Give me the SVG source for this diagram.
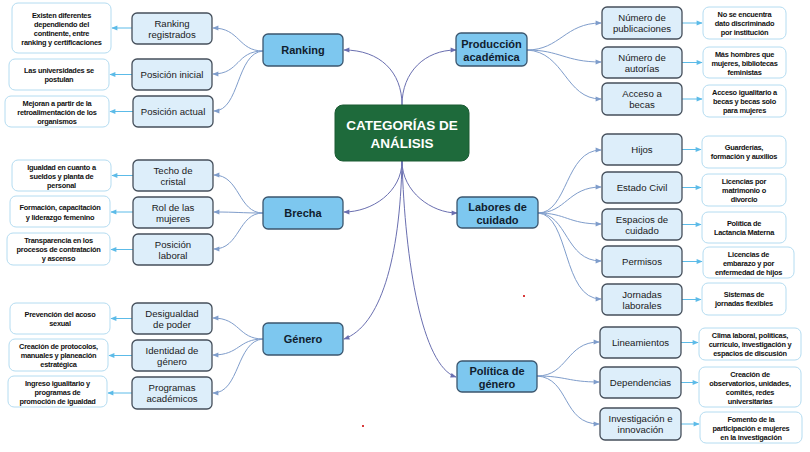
<svg xmlns="http://www.w3.org/2000/svg" width="810" height="452" viewBox="0 0 810 452">
<style>
.bg{fill:#ffffff}
.center rect{fill:#1e6a3b;stroke:#1a5a33;stroke-width:1}
.center text{fill:#ffffff;font-family:"Liberation Sans",Arial,sans-serif;font-weight:bold;font-size:13.5px;text-anchor:middle}
.main rect{fill:#7dc7ef;stroke:#3b566e;stroke-width:1.3}
.main text{fill:#10202e;font-family:"Liberation Sans",Arial,sans-serif;font-weight:bold;font-size:11px;text-anchor:middle}
.child rect{fill:#ddeefa;stroke:#454f5b;stroke-width:1.3}
.child text{fill:#1a1a1a;font-family:"Liberation Sans",Arial,sans-serif;font-size:9.6px;text-anchor:middle}
.leaf rect{fill:#ffffff;stroke:#b4dcf1;stroke-width:1}
.leaf text{fill:#111111;font-family:"Liberation Sans",Arial,sans-serif;font-weight:bold;font-size:7.4px;letter-spacing:-0.25px;text-anchor:middle}
.c0{fill:none;stroke:#6a6fb0;stroke-width:1}
.c1{fill:none;stroke:#7f9dcb;stroke-width:1}
.c2{fill:none;stroke:#5cbbe8;stroke-width:1}
</style>
<defs>
<marker id="m0" viewBox="0 0 10 10" refX="9" refY="5" markerWidth="7" markerHeight="6" orient="auto" markerUnits="userSpaceOnUse"><path d="M0,1 L10,5 L0,9 z" fill="#6a6fb0"/></marker>
<marker id="m1" viewBox="0 0 10 10" refX="9" refY="5" markerWidth="7" markerHeight="6" orient="auto" markerUnits="userSpaceOnUse"><path d="M0,1 L10,5 L0,9 z" fill="#7f9dcb"/></marker>
<marker id="m2" viewBox="0 0 10 10" refX="9" refY="5" markerWidth="7" markerHeight="6" orient="auto" markerUnits="userSpaceOnUse"><path d="M0,1 L10,5 L0,9 z" fill="#5cbbe8"/></marker>
</defs>
<rect class="bg" x="0" y="0" width="810" height="452"/>

<g id="connectors">
  <!-- center -->
  <path class="c0" marker-end="url(#m0)" d="M402,105 C402,72 380,50 344,50"/>
  <path class="c0" marker-end="url(#m0)" d="M402,105 C402,72 425,50 456,50"/>
  <path class="c0" marker-end="url(#m0)" d="M402,161 C402,192 372,212 344,212"/>
  <path class="c0" marker-end="url(#m0)" d="M402,161 C402,192 432,213 457,213"/>
  <path class="c0" marker-end="url(#m0)" d="M402,161 C400,260 380,326 344,339"/>
  <path class="c0" marker-end="url(#m0)" d="M402,161 C405,262 422,366 456,377"/>
  <!-- Ranking -->
  <path class="c1" marker-end="url(#m1)" d="M263,51 C238,51 240,28 213,28"/>
  <path class="c1" marker-end="url(#m1)" d="M263,51 C236,51 240,74 213,74"/>
  <path class="c1" marker-end="url(#m1)" d="M263,51 C236,53 240,111 214,111"/>
  <!-- Brecha -->
  <path class="c1" marker-end="url(#m1)" d="M263,213 C238,213 240,175 214,175"/>
  <path class="c1" marker-end="url(#m1)" d="M263,213 C240,213 238,212 214,212"/>
  <path class="c1" marker-end="url(#m1)" d="M263,213 C238,213 240,249 214,249"/>
  <!-- Genero -->
  <path class="c1" marker-end="url(#m1)" d="M263,339 C238,339 240,318 213,318"/>
  <path class="c1" marker-end="url(#m1)" d="M263,339 C238,339 240,355 213,355"/>
  <path class="c1" marker-end="url(#m1)" d="M263,339 C236,341 240,393 213,393"/>
  <!-- Produccion -->
  <path class="c1" marker-end="url(#m1)" d="M527,50 C560,50 565,23 601,23"/>
  <path class="c1" marker-end="url(#m1)" d="M527,50 C560,50 565,62 601,62"/>
  <path class="c1" marker-end="url(#m1)" d="M527,50 C565,52 565,99 601,99"/>
  <!-- Labores -->
  <path class="c1" marker-end="url(#m1)" d="M538,213 C568,213 565,150 601,150"/>
  <path class="c1" marker-end="url(#m1)" d="M538,213 C566,213 568,187 601,187"/>
  <path class="c1" marker-end="url(#m1)" d="M538,213 C566,213 568,224 601,224"/>
  <path class="c1" marker-end="url(#m1)" d="M538,213 C568,214 565,261 601,261"/>
  <path class="c1" marker-end="url(#m1)" d="M538,213 C570,215 562,299 601,299"/>
  <!-- Politica -->
  <path class="c1" marker-end="url(#m1)" d="M537,376 C568,376 566,342 599,342"/>
  <path class="c1" marker-end="url(#m1)" d="M537,376 C566,376 568,382 599,382"/>
  <path class="c1" marker-end="url(#m1)" d="M537,376 C570,378 562,424 599,424"/>
  <!-- leaf arrows left -->
  <path class="c2" marker-end="url(#m2)" d="M132,28 L112,28"/>
  <path class="c2" marker-end="url(#m2)" d="M132,74.5 L110,74.5"/>
  <path class="c2" marker-end="url(#m2)" d="M133,111.5 L110,111.5"/>
  <path class="c2" marker-end="url(#m2)" d="M133,175.5 L112,175.5"/>
  <path class="c2" marker-end="url(#m2)" d="M133,212 L111,212"/>
  <path class="c2" marker-end="url(#m2)" d="M133,249.5 L111,249.5"/>
  <path class="c2" marker-end="url(#m2)" d="M132,318.5 L111,318.5"/>
  <path class="c2" marker-end="url(#m2)" d="M132,355.5 L109,355.5"/>
  <path class="c2" marker-end="url(#m2)" d="M132,393 L108,393"/>
  <!-- leaf arrows right -->
  <path class="c2" marker-end="url(#m2)" d="M682,23 L702,23"/>
  <path class="c2" marker-end="url(#m2)" d="M682,62.5 L702,62.5"/>
  <path class="c2" marker-end="url(#m2)" d="M682,99 L702,99"/>
  <path class="c2" marker-end="url(#m2)" d="M682,149.5 L701,149.5"/>
  <path class="c2" marker-end="url(#m2)" d="M682,187.5 L701,187.5"/>
  <path class="c2" marker-end="url(#m2)" d="M682,224.5 L701,224.5"/>
  <path class="c2" marker-end="url(#m2)" d="M682,261.5 L702,261.5"/>
  <path class="c2" marker-end="url(#m2)" d="M682,299.5 L701,299.5"/>
  <path class="c2" marker-end="url(#m2)" d="M681,342.5 L698,342.5"/>
  <path class="c2" marker-end="url(#m2)" d="M681,382.5 L698,382.5"/>
  <path class="c2" marker-end="url(#m2)" d="M681,424 L699,424"/>
</g>

<g id="n-center" class="center"><rect x="335" y="105" width="134" height="56" rx="8"/><text x="402" y="130">CATEGORÍAS DE</text><text x="402" y="148">ANÁLISIS</text></g>

<g id="n-ranking" class="main"><rect x="263" y="34" width="80" height="32" rx="5"/><text x="303" y="54">Ranking</text></g>
<g id="n-produccion" class="main"><rect x="456" y="33" width="71" height="33" rx="5"/><text x="491.5" y="48">Producción</text><text x="491.5" y="61">académica</text></g>
<g id="n-brecha" class="main"><rect x="263" y="197" width="80" height="32" rx="5"/><text x="303" y="217">Brecha</text></g>
<g id="n-labores" class="main"><rect x="457" y="197" width="81" height="31" rx="5"/><text x="497.5" y="211">Labores de</text><text x="497.5" y="224">cuidado</text></g>
<g id="n-genero" class="main"><rect x="263" y="323" width="80" height="32" rx="5"/><text x="303" y="343">Género</text></g>
<g id="n-politica" class="main"><rect x="457" y="361" width="80" height="31" rx="5"/><text x="497" y="375">Política de</text><text x="497" y="388">género</text></g>

<g id="n-rank-reg" class="child"><rect x="132" y="13" width="80" height="31" rx="5"/><text x="172" y="27">Ranking</text><text x="172" y="38">registrados</text></g>
<g id="n-pos-ini" class="child"><rect x="132" y="59" width="80" height="31" rx="5"/><text x="172" y="78">Posición inicial</text></g>
<g id="n-pos-act" class="child"><rect x="133" y="96" width="80" height="31" rx="5"/><text x="173" y="115">Posición actual</text></g>
<g id="n-techo" class="child"><rect x="133" y="160" width="80" height="31" rx="5"/><text x="173" y="173.5">Techo de</text><text x="173" y="184.5">cristal</text></g>
<g id="n-rol" class="child"><rect x="133" y="197" width="80" height="31" rx="5"/><text x="173" y="210.5">Rol de las</text><text x="173" y="221.5">mujeres</text></g>
<g id="n-poslab" class="child"><rect x="133" y="234" width="80" height="31" rx="5"/><text x="173" y="247.5">Posición</text><text x="173" y="258.5">laboral</text></g>
<g id="n-desig" class="child"><rect x="132" y="303" width="80" height="31" rx="5"/><text x="172" y="316.5">Desigualdad</text><text x="172" y="327.5">de poder</text></g>
<g id="n-ident" class="child"><rect x="132" y="340" width="80" height="31" rx="5"/><text x="172" y="353.5">Identidad de</text><text x="172" y="364.5">género</text></g>
<g id="n-prog" class="child"><rect x="132" y="377" width="80" height="32" rx="5"/><text x="172" y="391">Programas</text><text x="172" y="402">académicos</text></g>

<g id="n-numpub" class="child"><rect x="602" y="7" width="80" height="32" rx="5"/><text x="642" y="21">Número de</text><text x="642" y="32">publicaciones</text></g>
<g id="n-numaut" class="child"><rect x="602" y="47" width="80" height="31" rx="5"/><text x="642" y="60.5">Número de</text><text x="642" y="71.5">autorías</text></g>
<g id="n-acceso" class="child"><rect x="602" y="83" width="80" height="32" rx="5"/><text x="642" y="97">Acceso a</text><text x="642" y="108">becas</text></g>
<g id="n-hijos" class="child"><rect x="602" y="134" width="80" height="31" rx="5"/><text x="642" y="153">Hijos</text></g>
<g id="n-estado" class="child"><rect x="602" y="172" width="80" height="31" rx="5"/><text x="642" y="191">Estado Civil</text></g>
<g id="n-espacios" class="child"><rect x="602" y="209" width="80" height="31" rx="5"/><text x="642" y="222.5">Espacios de</text><text x="642" y="233.5">cuidado</text></g>
<g id="n-permisos" class="child"><rect x="602" y="246" width="80" height="31" rx="5"/><text x="642" y="265">Permisos</text></g>
<g id="n-jornadas" class="child"><rect x="602" y="284" width="80" height="31" rx="5"/><text x="642" y="297.5">Jornadas</text><text x="642" y="308.5">laborales</text></g>
<g id="n-linea" class="child"><rect x="600" y="327" width="81" height="31" rx="5"/><text x="640.5" y="346">Lineamientos</text></g>
<g id="n-depend" class="child"><rect x="600" y="367" width="81" height="31" rx="5"/><text x="640.5" y="386">Dependencias</text></g>
<g id="n-invest" class="child"><rect x="600" y="408" width="81" height="32" rx="5"/><text x="640.5" y="422">Investigación e</text><text x="640.5" y="433">innovación</text></g>

<g id="l-existen" class="leaf"><rect x="12" y="3" width="99" height="50" rx="6"/><text x="61.5" y="17.5">Existen diferentes</text><text x="61.5" y="26.5">dependiendo del</text><text x="61.5" y="35.5">continente, entre</text><text x="61.5" y="44.5">ranking y certificaciones</text></g>
<g id="l-univ" class="leaf"><rect x="9" y="59" width="100" height="31" rx="6"/><text x="59" y="73">Las universidades se</text><text x="59" y="82">postulan</text></g>
<g id="l-mejoran" class="leaf"><rect x="5" y="96" width="104" height="31" rx="6"/><text x="57" y="105.5">Mejoran a partir de la</text><text x="57" y="114.5">retroalimentación de los</text><text x="57" y="123.5">organismos</text></g>
<g id="l-igualdad" class="leaf"><rect x="12" y="160" width="99" height="31" rx="6"/><text x="61.5" y="169.5">Igualdad en cuanto a</text><text x="61.5" y="178.5">sueldos y planta de</text><text x="61.5" y="187.5">personal</text></g>
<g id="l-formacion" class="leaf"><rect x="10" y="196" width="100" height="31" rx="6"/><text x="60" y="210">Formación, capacitación</text><text x="60" y="219.5">y liderazgo femenino</text></g>
<g id="l-transp" class="leaf"><rect x="7" y="233" width="103" height="32" rx="6"/><text x="58.5" y="243">Transparencia en los</text><text x="58.5" y="252">procesos de contratación</text><text x="58.5" y="261">y ascenso</text></g>
<g id="l-prevencion" class="leaf"><rect x="10" y="303" width="100" height="31" rx="6"/><text x="60" y="317">Prevención del acoso</text><text x="60" y="326">sexual</text></g>
<g id="l-creacion" class="leaf"><rect x="9" y="339" width="99" height="32" rx="6"/><text x="58.5" y="349">Creación de protocolos,</text><text x="58.5" y="358">manuales y planeación</text><text x="58.5" y="367">estratégica</text></g>
<g id="l-ingreso" class="leaf"><rect x="8" y="376" width="99" height="31" rx="6"/><text x="57.5" y="385.5">Ingreso igualitario y</text><text x="57.5" y="394.5">programas de</text><text x="57.5" y="403.5">promoción de igualdad</text></g>

<g id="l-nose" class="leaf"><rect x="703" y="7" width="83" height="32" rx="6"/><text x="744.5" y="17">No se encuentra</text><text x="744.5" y="26">dato discriminado</text><text x="744.5" y="35">por institución</text></g>
<g id="l-mas" class="leaf"><rect x="703" y="47" width="83" height="31" rx="6"/><text x="744.5" y="56.5">Más hombres que</text><text x="744.5" y="65.5">mujeres, bibliotecas</text><text x="744.5" y="74.5">feministas</text></g>
<g id="l-accesoig" class="leaf"><rect x="703" y="85" width="83" height="32" rx="6"/><text x="744.5" y="95">Acceso igualitario a</text><text x="744.5" y="104">becas y becas solo</text><text x="744.5" y="113">para mujeres</text></g>
<g id="l-guard" class="leaf"><rect x="702" y="136" width="84" height="32" rx="6"/><text x="744" y="150">Guarderías,</text><text x="744" y="159">formación y auxilios</text></g>
<g id="l-licmat" class="leaf"><rect x="702" y="174" width="84" height="32" rx="6"/><text x="744" y="184">Licencias por</text><text x="744" y="193">matrimonio o</text><text x="744" y="202">divorcio</text></g>
<g id="l-lact" class="leaf"><rect x="702" y="212" width="84" height="31" rx="6"/><text x="744" y="225.5">Política de</text><text x="744" y="235">Lactancia Materna</text></g>
<g id="l-licemb" class="leaf"><rect x="703" y="247" width="91" height="31" rx="6"/><text x="748.5" y="256.5">Licencias de</text><text x="748.5" y="265.5">embarazo y por</text><text x="748.5" y="274.5">enfermedad de hijos</text></g>
<g id="l-sist" class="leaf"><rect x="702" y="283" width="84" height="32" rx="6"/><text x="744" y="297">Sistemas de</text><text x="744" y="306">jornadas flexibles</text></g>
<g id="l-clima" class="leaf"><rect x="699" y="328" width="102" height="32" rx="6"/><text x="750" y="338">Clima laboral, políticas,</text><text x="750" y="347">currículo, investigación y</text><text x="750" y="356">espacios de discusión</text></g>
<g id="l-creac" class="leaf"><rect x="699" y="367" width="102" height="40" rx="6"/><text x="750" y="376.5">Creación de</text><text x="750" y="385.5">observatorios, unidades,</text><text x="750" y="394.5">comités, redes</text><text x="750" y="403.5">universitarias</text></g>
<g id="l-fomento" class="leaf"><rect x="700" y="412" width="102" height="31" rx="6"/><text x="751" y="421.5">Fomento de la</text><text x="751" y="430.5">participación e mujeres</text><text x="751" y="439.5">en la investigación</text></g>

<rect x="362" y="425" width="2" height="2" fill="#d83a3a"/>
<rect x="523" y="295" width="2" height="2" fill="#d83a3a"/>
</svg>
